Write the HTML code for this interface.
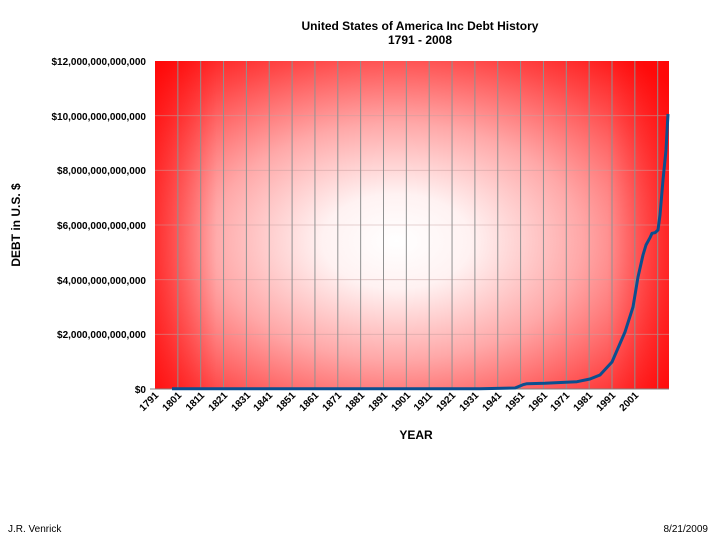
<!DOCTYPE html>
<html><head><meta charset="utf-8"><style>
body{margin:0;background:#fff;font-family:"Liberation Sans",Arial,sans-serif;}
</style></head><body>
<div style="position:relative;width:717px;height:538px;overflow:hidden">
<svg width="717" height="538" style="position:absolute;left:0;top:0" font-family="Liberation Sans, Arial, sans-serif">
<defs>
<radialGradient id="g" cx="0.47" cy="0.55" r="0.72">
<stop offset="0" stop-color="#fff"/>
<stop offset="0.2" stop-color="#fff2f2"/>
<stop offset="0.5" stop-color="#ffa8a8"/>
<stop offset="0.8" stop-color="#ff4848"/>
<stop offset="1" stop-color="#ff1010"/>
</radialGradient>
<linearGradient id="h" x1="0" x2="1" y1="0" y2="0">
<stop offset="0" stop-color="#ff0000" stop-opacity="0.6"/>
<stop offset="0.12" stop-color="#ff0000" stop-opacity="0"/>
<stop offset="0.88" stop-color="#ff0000" stop-opacity="0"/>
<stop offset="1" stop-color="#ff0000" stop-opacity="0.6"/>
</linearGradient>
</defs>
<rect x="155" y="61" width="514" height="328" fill="url(#g)"/>
<rect x="155" y="61" width="514" height="328" fill="url(#h)"/>
<g stroke="#c8a0a0" stroke-width="0.8" opacity="0.6">
<line x1="155" x2="669" y1="115.7" y2="115.7"/><line x1="155" x2="669" y1="170.3" y2="170.3"/>
<line x1="155" x2="669" y1="225" y2="225"/><line x1="155" x2="669" y1="279.7" y2="279.7"/>
<line x1="155" x2="669" y1="334.3" y2="334.3"/>
</g>
<g stroke="#909090" stroke-width="1">
<line x1="177.85" x2="177.85" y1="61" y2="389"/><line x1="200.7" x2="200.7" y1="61" y2="389"/>
<line x1="223.55" x2="223.55" y1="61" y2="389"/><line x1="246.4" x2="246.4" y1="61" y2="389"/>
<line x1="269.25" x2="269.25" y1="61" y2="389"/><line x1="292.1" x2="292.1" y1="61" y2="389"/>
<line x1="314.95" x2="314.95" y1="61" y2="389"/><line x1="337.8" x2="337.8" y1="61" y2="389"/>
<line x1="360.65" x2="360.65" y1="61" y2="389"/><line x1="383.5" x2="383.5" y1="61" y2="389"/>
<line x1="406.35" x2="406.35" y1="61" y2="389"/><line x1="429.2" x2="429.2" y1="61" y2="389"/>
<line x1="452.05" x2="452.05" y1="61" y2="389"/><line x1="474.9" x2="474.9" y1="61" y2="389"/>
<line x1="497.75" x2="497.75" y1="61" y2="389"/><line x1="520.6" x2="520.6" y1="61" y2="389"/>
<line x1="543.45" x2="543.45" y1="61" y2="389"/><line x1="566.3" x2="566.3" y1="61" y2="389"/>
<line x1="589.15" x2="589.15" y1="61" y2="389"/><line x1="612" x2="612" y1="61" y2="389"/>
<line x1="634.85" x2="634.85" y1="61" y2="389"/><line x1="657.7" x2="657.7" y1="61" y2="389"/>
</g>
<line x1="150" x2="669" y1="389" y2="389" stroke="#808080"/>
<polyline fill="none" stroke="#0b4f8f" stroke-width="3" stroke-linejoin="round" points="172,388.7 480,388.7 515,388 523,384.7 527,383.7 545,383.3 566,382.3 577,381.7 590,379 600,375 612,362 625,332 633,307 638,277 643,255 646,245 650,237.7 652,233.3 655,232.7 658,230 660,215 663,180 666,150 668,114"/>
<g font-size="10" font-weight="bold" text-anchor="end">
<text x="146" y="65">$12,000,000,000,000</text>
<text x="146" y="120">$10,000,000,000,000</text>
<text x="146" y="174">$8,000,000,000,000</text>
<text x="146" y="229">$6,000,000,000,000</text>
<text x="146" y="284">$4,000,000,000,000</text>
<text x="146" y="338">$2,000,000,000,000</text>
<text x="146" y="393">$0</text>
</g>
<g font-size="10" font-weight="bold" text-anchor="end">
<text transform="translate(159,396) rotate(-45)">1791</text>
<text transform="translate(182,396) rotate(-45)">1801</text>
<text transform="translate(205,396) rotate(-45)">1811</text>
<text transform="translate(228,396) rotate(-45)">1821</text>
<text transform="translate(251,396) rotate(-45)">1831</text>
<text transform="translate(273,396) rotate(-45)">1841</text>
<text transform="translate(296,396) rotate(-45)">1851</text>
<text transform="translate(319,396) rotate(-45)">1861</text>
<text transform="translate(342,396) rotate(-45)">1871</text>
<text transform="translate(365,396) rotate(-45)">1881</text>
<text transform="translate(388,396) rotate(-45)">1891</text>
<text transform="translate(411,396) rotate(-45)">1901</text>
<text transform="translate(433,396) rotate(-45)">1911</text>
<text transform="translate(456,396) rotate(-45)">1921</text>
<text transform="translate(479,396) rotate(-45)">1931</text>
<text transform="translate(502,396) rotate(-45)">1941</text>
<text transform="translate(525,396) rotate(-45)">1951</text>
<text transform="translate(548,396) rotate(-45)">1961</text>
<text transform="translate(570,396) rotate(-45)">1971</text>
<text transform="translate(593,396) rotate(-45)">1981</text>
<text transform="translate(616,396) rotate(-45)">1991</text>
<text transform="translate(639,396) rotate(-45)">2001</text>
</g>
<text x="416" y="439" font-size="12" font-weight="bold" text-anchor="middle">YEAR</text>
<text transform="translate(20,225) rotate(-90)" font-size="12" font-weight="bold" text-anchor="middle">DEBT in U.S. $</text>
<text x="420" y="30" font-size="12" font-weight="bold" text-anchor="middle">United States of America Inc Debt History</text>
<text x="420" y="44" font-size="12" font-weight="bold" text-anchor="middle">1791 - 2008</text>
<text x="8" y="532" font-size="10">J.R. Venrick</text>
<text x="708" y="532" font-size="10" text-anchor="end">8/21/2009</text>
</svg>
</div>
</body></html>
